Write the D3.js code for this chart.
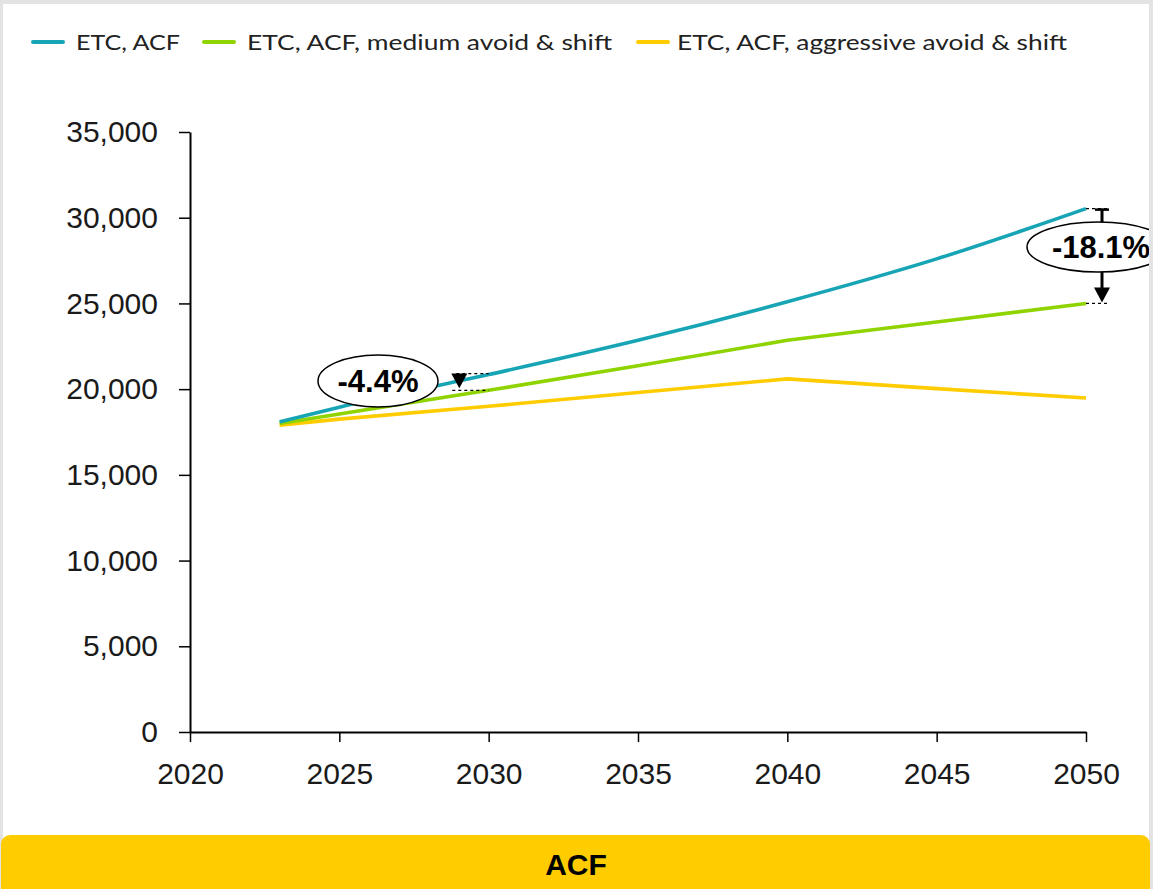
<!DOCTYPE html>
<html><head><meta charset="utf-8">
<script src="https://cdn.jsdelivr.net/npm/d3@7"></script>
<style>html,body{margin:0;padding:0;background:#e3e3e3;overflow:hidden}</style>
</head><body>
<svg id="c" width="1153" height="889"></svg>
<script>
const years = [2023, 2025, 2030, 2035, 2040, 2045, 2050];
const etcACF = [18100, 18950, 20850, 22850, 25100, 27600, 30530];
const mediumAS = [18000, 18550, 19930, 21360, 22850, 23920, 25000];
const aggressiveAS = [17900, 18250, 19000, 19800, 20600, 20030, 19480];
const seriesNames = ["ETC, ACF", "ETC, ACF, medium avoid & shift", "ETC, ACF, aggressive avoid & shift"];
const seriesColors = ["#17a5b6", "#8fd400", "#ffcc00"];
const xTicks = [2020, 2025, 2030, 2035, 2040, 2045, 2050];
const yTicks = [0, 5000, 10000, 15000, 20000, 25000, 30000, 35000];
const annotations = [{year: 2029, from: 20850, to: 19930, label: "-4.4%"}, {year: 2050, from: 30530, to: 25000, label: "-18.1%"}];

const svg = d3.select("#c");
// card
svg.append("rect").attr("x",3).attr("y",4).attr("width",1146).attr("height",885).attr("fill","#fff");
svg.append("rect").attr("x",1).attr("y",835).attr("width",1149).attr("height",70).attr("rx",9).attr("fill","#ffcc00");
svg.append("text").attr("x",576).attr("y",864).attr("dy","0.35em").attr("text-anchor","middle")
  .attr("font-family","Liberation Sans, Arial, sans-serif").attr("font-weight","bold").attr("font-size",30).attr("fill","#000").text("ACF");

const x = d3.scaleLinear().domain([2020, 2050]).range([190, 1086]);
const y = d3.scaleLinear().domain([0, 35000]).range([732, 132]);

const fmt = d3.format(",");
const yAxis = svg.append("g").attr("transform","translate(190,0)")
  .call(d3.axisLeft(y).tickValues(yTicks).tickFormat(fmt).tickSize(11).tickSizeOuter(0).tickPadding(21));
const xAxis = svg.append("g").attr("transform","translate(0,732)")
  .call(d3.axisBottom(x).tickValues(xTicks).tickFormat(d3.format("d")).tickSize(10).tickSizeOuter(0).tickPadding(15));
[yAxis, xAxis].forEach(g => {
  g.select(".domain").attr("stroke","#000").attr("stroke-width",2);
  g.selectAll(".tick line").attr("stroke","#000").attr("stroke-width",1.5);
  g.selectAll(".tick text").attr("font-family","Liberation Sans, Arial, sans-serif").attr("font-size",30).attr("fill","#1a1a1a");
});
xAxis.selectAll(".tick text").attr("dy","0.9em");

const allSeries = [etcACF, mediumAS, aggressiveAS];
const curves = [d3.curveMonotoneX, d3.curveLinear, d3.curveLinear];
// draw yellow first, then green, then blue on top
[2,1,0].forEach(k => {
  const line = d3.line().x((d,i)=>x(years[i])).y(d=>y(d)).curve(curves[k]);
  svg.append("path").datum(allSeries[k]).attr("d", line).attr("fill","none")
    .attr("stroke", seriesColors[k]).attr("stroke-width",3.6).attr("stroke-linejoin","round");
});

// legend
const lg = svg.append("g").attr("font-family","Lato, sans-serif").attr("font-size",22).attr("fill","#222");
const legX = [33, 204, 638];
const legT = [76, 247, 677];
const legW = [104, 365, 390];
seriesNames.forEach((n,i) => {
  lg.append("line").attr("x1",legX[i]).attr("x2",legX[i]+30).attr("y1",42).attr("y2",42)
    .attr("stroke",seriesColors[i]).attr("stroke-width",4).attr("stroke-linecap","round");
  lg.append("text").attr("x",legT[i]).attr("y",42).attr("dy","0.35em").attr("textLength",legW[i])
    .attr("lengthAdjust","spacingAndGlyphs").text(n);
});

// annotations
const ann = svg.append("g");
const fontB = "Liberation Sans, Arial, sans-serif";
{
  const a = annotations[0];
  const ax = x(a.year) + 0.5, y1 = y(a.from) - 1, y2 = y(a.to);
  ann.append("line").attr("x1",ax-3).attr("x2",x(2030)).attr("y1",y1).attr("y2",y1).attr("stroke","#000").attr("stroke-width",1.2).attr("stroke-dasharray","3,3");
  ann.append("line").attr("x1",ax-7).attr("x2",x(2030)).attr("y1",y2).attr("y2",y2).attr("stroke","#000").attr("stroke-width",1.2).attr("stroke-dasharray","3,3");
  ann.append("path").attr("d",`M${ax-8},${y1}L${ax+8},${y1}L${ax},${y2-2}Z`).attr("fill","#000");
  ann.append("ellipse").attr("cx",378).attr("cy",381).attr("rx",60).attr("ry",26).attr("fill","#fff").attr("stroke","#000").attr("stroke-width",1.5);
  ann.append("text").attr("x",378).attr("y",381).attr("dy","0.36em").attr("text-anchor","middle").attr("font-family",fontB).attr("font-weight","bold").attr("font-size",31).attr("fill","#000").text(a.label);
}
{
  const a = annotations[1];
  const ax = x(a.year) + 16, y1 = y(a.from), y2 = y(a.to);
  ann.append("line").attr("x1",x(a.year)).attr("x2",ax+8).attr("y1",y1).attr("y2",y1).attr("stroke","#000").attr("stroke-width",1.2).attr("stroke-dasharray","3,3");
  ann.append("line").attr("x1",x(a.year)).attr("x2",ax+8).attr("y1",y2).attr("y2",y2).attr("stroke","#000").attr("stroke-width",1.2).attr("stroke-dasharray","3,3");
  ann.append("line").attr("x1",ax-7).attr("x2",ax+7).attr("y1",y1+1).attr("y2",y1+1).attr("stroke","#000").attr("stroke-width",2.5);
  ann.append("line").attr("x1",ax).attr("x2",ax).attr("y1",y1).attr("y2",y2-14).attr("stroke","#000").attr("stroke-width",3);
  ann.append("path").attr("d",`M${ax-8},${y2-16}L${ax+8},${y2-16}L${ax},${y2-1}Z`).attr("fill","#000");
  ann.append("ellipse").attr("cx",1098).attr("cy",247).attr("rx",71).attr("ry",25).attr("fill","#fff").attr("stroke","#000").attr("stroke-width",1.5);
  ann.append("text").attr("x",1101).attr("y",247).attr("dy","0.36em").attr("text-anchor","middle").attr("font-family",fontB).attr("font-weight","bold").attr("font-size",31).attr("fill","#000").text(a.label);
}
svg.append("rect").attr("x",1149).attr("y",0).attr("width",4).attr("height",835).attr("fill","#e3e3e3");
</script>
</body></html>
